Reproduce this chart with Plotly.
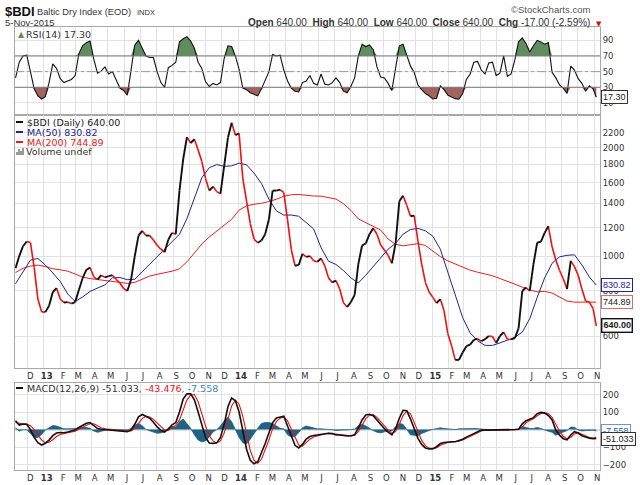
import math
import pandas as pd
import plotly.graph_objects as go
from plotly.subplots import make_subplots

# weekly closes (Fridays) plus the last close on 5-Nov-2015
weeks = list(pd.date_range("2012-11-09", periods=156, freq="7D")) + [pd.Timestamp("2015-11-05")]
ma_dates = weeks[:-1:2] + [weeks[-1]]

price = [
    925, 1000, 1065, 1098, 1090, 930, 760, 700, 699, 728,
    795, 815, 760, 743, 745, 738, 745, 805, 868, 915,
    930, 876, 860, 885, 873, 880, 885, 862, 842, 813,
    800, 860, 1000, 1140, 1175, 1140, 1140, 1108, 1072, 1045,
    1025, 1110, 1160, 1150, 1520, 1860, 2140, 2060, 2110, 1970,
    1830, 1640, 1520, 1560, 1510, 1490, 1780, 2130, 2345, 2168,
    2190, 1640, 1420, 1230, 1115, 1089, 1105, 1150, 1265, 1520,
    1520, 1530, 1500, 1260, 1045, 940, 945, 1015, 995, 1000,
    970, 965, 985, 940, 870, 845, 855, 810, 742, 722,
    745, 780, 950, 1070, 1085, 1150, 1195, 1150, 1073, 1040,
    1005, 955, 1085, 1420, 1470, 1385, 1290, 1295, 1100, 950,
    845, 795, 768, 740, 760, 705, 610, 565, 515, 515,
    540, 562, 568, 585, 590, 580, 588, 600, 598, 574,
    600, 615, 588, 587, 592, 630, 800, 818, 800, 950,
    1090, 1096, 1160, 1210, 1061, 975, 912, 865, 810, 970,
    935, 885, 810, 750, 745, 715, 640]

ma50 = [
    838, 905, 975, 985, 945, 898, 850, 785, 748, 770,
    798, 815, 832, 870, 872, 860, 862, 905, 950, 995,
    1045, 1095, 1150, 1270, 1450, 1650, 1760, 1795, 1775, 1780,
    1812, 1792, 1700, 1590, 1440, 1335, 1300, 1300, 1290, 1240,
    1190, 1055, 968, 948, 912, 870, 842, 885, 935, 985,
    1045, 1085, 1150, 1185, 1194, 1175, 1135, 1045, 900, 775,
    675, 612, 582, 565, 565, 574, 584, 595, 615, 670,
    768, 870, 955, 995, 1005, 1008, 945, 875, 830.82]

ma200 = [
    900, 925, 938, 944, 935, 922, 916, 908, 892, 874,
    866, 860, 855, 849, 844, 840, 845, 862, 880, 890,
    898, 908, 922, 964, 1020, 1080, 1130, 1175, 1215, 1265,
    1342, 1378, 1393, 1401, 1418, 1438, 1466, 1480, 1483, 1475,
    1468, 1467, 1456, 1440, 1398, 1340, 1268, 1238, 1210, 1181,
    1115, 1078, 1068, 1078, 1083, 1070, 1032, 997, 970, 950,
    935, 914, 902, 892, 882, 866, 852, 836, 820, 805,
    796, 798, 790, 770, 750, 745, 744, 745, 744.89]

rsi = [
    42, 62, 70, 71, 50, 28, 19, 15, 18, 36,
    60, 54, 41, 36, 38, 40, 45, 73, 83, 87,
    89, 66, 48, 51, 56, 47, 50, 40, 29, 26,
    20, 52, 84, 90, 80, 70, 68, 68, 50, 36,
    30, 55, 58, 62, 88, 92, 94.7, 89, 80, 62,
    54, 37, 31, 35, 33, 36, 67, 83, 82, 70,
    53, 29, 27, 23, 21, 19, 28, 39, 50, 72,
    70, 71, 52, 38, 29, 25, 24, 36, 38, 45,
    35, 33, 47, 34, 33, 36, 42, 36, 25, 23,
    31, 42, 70, 85, 82, 84, 78, 56, 43, 42,
    35, 26, 52, 83, 85, 71, 57, 49, 33, 27,
    22, 19, 15, 16, 32, 27, 20, 17.5, 15.5, 14.7,
    22, 40, 47, 62, 63, 52, 47, 61, 62, 45,
    48, 70, 44, 47, 65, 88, 93, 86, 75, 83,
    90, 88, 85, 87, 49, 42, 33, 29, 22, 57,
    52, 41, 35, 25, 32, 28, 17.3]

macd = [
    50, 26, 32, 30, 0, -45, -75, -88, -78, -60,
    -35, -20, -17, -18, -14, -10, -3, 12, 25, 36,
    40, 25, 6, 2, 0, -2, -3, -3, -6, -9,
    -12, -2, 30, 73, 86, 76, 65, 42, 15, -5,
    -14, 3, 27, 40, 100, 175, 204, 204, 170, 100,
    20, -45, -77, -79, -76, -45, 30, 130, 180, 165,
    100, 0, -112, -175, -196, -184, -135, -80, -20, 40,
    66, 72, 76, 20, -38, -90, -105, -85, -55, -40,
    -34, -31, -26, -22, -21, -23, -31, -31, -34, -37,
    -35, -30, 10, 55, 83, 87, 79, 55, 26, 5,
    -15, -30, 5, 65, 110, 108, 60, 7, -50, -85,
    -105, -111, -109, -98, -80, -74, -70, -70, -70, -63,
    -55, -43, -32, -22, -12, -3, -3, -3, -3, -3,
    -3, -3, -3, -2, 0, 2, 33, 50, 58, 68,
    90, 98, 94, 80, 55, -3, -32, -52, -58, -31,
    -12, -20, -35, -44, -49, -52, -51.033]

signal = [
    40, 35, 32, 31, 22, 0, -30, -60, -75, -72,
    -58, -40, -28, -22, -18, -14, -9, 0, 12, 24,
    33, 33, 22, 10, 4, 1, -1, -2, -4, -6,
    -9, -8, 6, 38, 64, 75, 72, 58, 36, 14,
    -2, -5, 8, 25, 55, 115, 170, 197, 200, 160,
    90, 20, -35, -65, -76, -65, -20, 60, 135, 168,
    145, 75, -30, -120, -175, -192, -170, -120, -60, 5,
    45, 65, 72, 50, 5, -50, -88, -95, -75, -55,
    -42, -35, -30, -25, -22, -22, -26, -29, -32, -35,
    -36, -33, -12, 25, 62, 82, 85, 70, 45, 18,
    -3, -22, -12, 30, 80, 105, 90, 40, -15, -62,
    -92, -106, -110, -104, -90, -80, -74, -71, -70, -67,
    -60, -50, -39, -28, -17, -8, -4, -3, -3, -3,
    -3, -3, -3, -3, -1, 1, 15, 38, 52, 62,
    78, 92, 97, 90, 70, 30, -10, -38, -52, -45,
    -25, -18, -27, -38, -45, -48, -43.476]

month_ticks = list(pd.date_range("2012-12-01", "2015-11-01", freq="MS"))
month_text = ["D", "<b>13</b>", "F", "M", "A", "M", "J", "J", "A", "S", "O", "N",
              "D", "<b>14</b>", "F", "M", "A", "M", "J", "J", "A", "S", "O", "N",
              "D", "<b>15</b>", "F", "M", "A", "M", "J", "J", "A", "S", "O", "N"]

hist = [m - s for m, s in zip(macd, signal)]

FONT = "DejaVu Sans"
SANS = "Liberation Sans"
GRID = "#e2e2e2"
BORDER = "#a8a8a8"
BLACK = "#111111"
RED = "#ee1111"
NAVY = "#23238e"
TEAL = "#1f6283"
LEG = 9.5


def px(x):
    return (x - 15) / 585.0


def py(y):
    return (470 - y) / 443.0


fig = make_subplots(rows=3, cols=1)

# ---- RSI panel
n = len(rsi)
fig.add_trace(go.Scatter(x=weeks, y=[70] * n, mode="lines", line=dict(width=0),
                         hoverinfo="skip"), row=1, col=1)
fig.add_trace(go.Scatter(x=weeks, y=[max(v, 70) for v in rsi], mode="lines",
                         line=dict(width=0), fill="tonexty", fillcolor="#5f8d5f"), row=1, col=1)
fig.add_trace(go.Scatter(x=weeks, y=[30] * n, mode="lines", line=dict(width=0),
                         hoverinfo="skip"), row=1, col=1)
fig.add_trace(go.Scatter(x=weeks, y=[min(v, 30) for v in rsi], mode="lines",
                         line=dict(width=0), fill="tonexty", fillcolor="#a2625d"), row=1, col=1)
fig.add_trace(go.Scatter(x=weeks, y=rsi, mode="lines", line=dict(color=BLACK, width=1.1)),
              row=1, col=1)
fig.add_hline(y=70, line=dict(color="#7a7a7a", width=1), row=1, col=1)
fig.add_hline(y=30, line=dict(color="#7a7a7a", width=1), row=1, col=1)
fig.add_hline(y=50, line=dict(color="#9a9a9a", width=1, dash="dashdot"), row=1, col=1)

# ---- price panel
fig.add_trace(go.Scatter(x=ma_dates, y=ma200, mode="lines", line=dict(color="#e32020", width=1)),
              row=2, col=1)
fig.add_trace(go.Scatter(x=ma_dates, y=ma50, mode="lines", line=dict(color=NAVY, width=1)),
              row=2, col=1)

up_x, up_y, dn_x, dn_y = [], [], [], []
for i in range(1, len(price)):
    if price[i] >= price[i - 1]:
        up_x += [weeks[i - 1], weeks[i], None]
        up_y += [price[i - 1], price[i], None]
    else:
        dn_x += [weeks[i - 1], weeks[i], None]
        dn_y += [price[i - 1], price[i], None]
fig.add_trace(go.Scatter(x=dn_x, y=dn_y, mode="lines", line=dict(color=RED, width=1.6)),
              row=2, col=1)
fig.add_trace(go.Scatter(x=up_x, y=up_y, mode="lines", line=dict(color=BLACK, width=1.9)),
              row=2, col=1)

# ---- MACD panel
fig.add_trace(go.Scatter(x=weeks, y=hist, mode="lines", line=dict(color=TEAL, width=0.8),
                         fill="tozeroy", fillcolor=TEAL), row=3, col=1)
fig.add_trace(go.Scatter(x=weeks, y=signal, mode="lines", line=dict(color=RED, width=1.1)),
              row=3, col=1)
fig.add_trace(go.Scatter(x=weeks, y=macd, mode="lines", line=dict(color=BLACK, width=1.6)),
              row=3, col=1)

fig.update_xaxes(type="date", range=["2012-11-08", "2015-11-12"],
                 tickvals=month_ticks, ticktext=month_text, ticks="", automargin=False,
                 showgrid=True, gridcolor=GRID, gridwidth=1, zeroline=False,
                 showline=True, mirror=True, linecolor=BORDER, linewidth=1,
                 ticklabelshift=3, tickfont=dict(family=FONT, size=8.5, color="#333"))
fig.update_yaxes(side="right", showgrid=True, gridcolor=GRID, zeroline=False, automargin=False,
                 showline=True, mirror=True, linecolor=BORDER, linewidth=1, ticks="",
                 tickfont=dict(family=FONT, size=8.5, color="#333"))

fig.update_layout(
    width=640, height=485,
    margin=dict(l=15, r=40, t=27, b=15),
    paper_bgcolor="white", plot_bgcolor="white",
    showlegend=False, hovermode=False,
    font=dict(family=FONT, size=8.5, color="#222"),
    xaxis=dict(showticklabels=False),
    yaxis=dict(domain=[py(115), 1.0], range=[-5.4, 107], tickvals=[10, 30, 50, 70, 90]),
    yaxis2=dict(domain=[py(368), py(115)], type="log", range=[2.6893, 3.3917],
                tickvals=[600, 800, 1000, 1200, 1400, 1600, 1800, 2000, 2200]),
    yaxis3=dict(domain=[0.0, py(383)], range=[-231, 266], tickvals=[-200, -100, 100, 200],
                zeroline=True, zerolinecolor=GRID),
)


def note(x, y, text, size=8.5, color="#222", anchor="left", family=FONT):
    fig.add_annotation(x=px(x), y=py(y), xref="paper", yref="paper", text=text,
                       showarrow=False, xanchor=anchor, yanchor="middle",
                       font=dict(family=family, size=size, color=color))


# header
note(3, 11, "<b>$BDI</b>", size=13, color="#111", family=SANS)
note(35, 12, "Baltic Dry Index (EOD)", size=9.3, color="#333", family=SANS)
note(135, 12, "INDX", size=7.5, color="#333", family=SANS)
note(3, 23, "5-Nov-2015", size=9.5, color="#333", family=SANS)
note(592, 10, "\u00a9StockCharts.com", size=9.5, color="#555", anchor="right", family=SANS)
note(592, 23, "<b>Open</b> 640.00  <b>High</b> 640.00  <b>Low</b> 640.00  <b>Close</b> 640.00  "
              "<b>Chg</b> -17.00 (-2.59%)", size=10, color="#333", anchor="right", family=SANS)
note(594, 23.5, "\u25bc", size=7, color="#cc1111")

# panel legends
note(16, 35, "\u25b2", size=8, color="#5f8d5f")
note(24, 35, "RSI(14) 17.30", size=LEG, color="#333")
legend_rows = [(122, BLACK, "$BDI (Daily) 640.00"), (132, NAVY, "MA(50) 830.82"),
               (142, "#e32020", "MA(200) 744.89")]
for y, c, t in legend_rows:
    fig.add_shape(type="line", xref="paper", yref="paper", x0=px(16), x1=px(23),
                  y0=py(y), y1=py(y), line=dict(color=c, width=2))
    note(25, y, t, size=LEG, color=c if c != BLACK else "#222")
for k, h in enumerate([3, 6, 4, 7]):
    fig.add_shape(type="line", xref="paper", yref="paper", x0=px(17 + 2 * k), x1=px(17 + 2 * k),
                  y0=py(155), y1=py(155 - h), line=dict(color="#555", width=1.2))
note(24, 151.5, "Volume undef", size=LEG, color="#333")

fig.add_shape(type="line", xref="paper", yref="paper", x0=px(16), x1=px(23),
              y0=py(388), y1=py(388), line=dict(color=BLACK, width=2))
note(25, 388, "MACD(12,26,9) -51.033<span style='color:#ee1111'>, -43.476</span>"
              "<span style='color:#3a86c0'>, -7.558</span>", size=LEG, color="#333")


def tag(yref, y, text, border, color="#222", bold=False, width=1):
    fig.add_annotation(x=1.0, y=y, xref="paper", yref=yref, text=("<b>%s</b>" % text) if bold else text,
                       showarrow=False, xanchor="left", yanchor="middle", xshift=1,
                       bgcolor="white", bordercolor=border, borderwidth=width, borderpad=1,
                       font=dict(family=SANS, size=9, color=color))


tag("y", rsi[-1], "17.30", "#333")
tag("y2", math.log10(ma50[-1]), "830.82", NAVY, color=NAVY)
tag("y2", math.log10(ma200[-1]), "744.89", "#e06a6a")
tag("y2", math.log10(price[-1]), "640.00", "#111", bold=True, width=1.4)
tag("y3", hist[-1], "-7.558", "#6a9ac4", color="#2a5f8a")
tag("y3", macd[-1], "-51.033", "#333")

fig.write_html("out.html", config={"displayModeBar": False},
               post_script="document.body.style.margin='0px';")
